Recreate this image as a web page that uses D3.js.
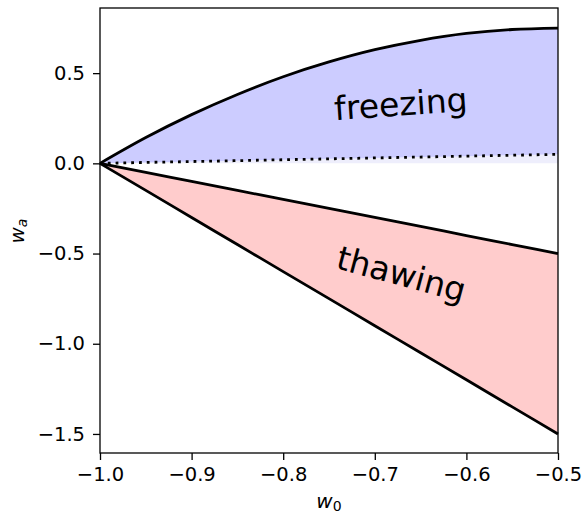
<!DOCTYPE html>
<html>
<head>
<meta charset="utf-8">
<script src="https://cdn.jsdelivr.net/npm/d3@7"></script>
<style>
  body { margin: 0; background: #fff; }
  text { font-family: "DejaVu Sans", sans-serif; }
</style>
</head>
<body>
<div class="chart-container"></div>
<script>
// --- data ---
const w0 = [-1.0, -0.95, -0.9, -0.85, -0.8, -0.75, -0.7, -0.65, -0.6, -0.55, -0.5];
const freezeUpper = [0, 0.143, 0.27, 0.382, 0.48, 0.562, 0.63, 0.682, 0.72, 0.742, 0.75];
const freezeLower = [0, 0.005, 0.01, 0.015, 0.02, 0.025, 0.03, 0.035, 0.04, 0.045, 0.05];
const thawUpper = [0, -0.05, -0.1, -0.15, -0.2, -0.25, -0.3, -0.35, -0.4, -0.45, -0.5];
const thawLower = [0, -0.15, -0.3, -0.45, -0.6, -0.75, -0.9, -1.05, -1.2, -1.35, -1.5];
const xTicks = [-1.0, -0.9, -0.8, -0.7, -0.6, -0.5];
const yTicks = [0.5, 0.0, -0.5, -1.0, -1.5];

const w = 584, h = 514;
const mLeft = 100, mRight = 558, mTop = 8, mBottom = 453;

const xScale = d3.scaleLinear().domain([-1.0, -0.5]).range([mLeft, mRight]);
const yScale = d3.scaleLinear().domain([-1.6056, 0.8611]).range([mBottom, mTop]);

const svg = d3.select(".chart-container")
    .append("svg")
    .attr("width", w)
    .attr("height", h);

const pts = (ys) => w0.map((x, i) => [x, ys[i]]);

// filled bands
const band = (lo, hi) => d3.area()
    .x((d, i) => xScale(w0[i]))
    .y0((d, i) => yScale(lo[i]))
    .y1((d, i) => yScale(hi[i]))
    .curve(d3.curveMonotoneX)(w0);

const zeros = w0.map(() => 0);
svg.append("path").attr("d", band(zeros, freezeLower)).attr("fill", "#eeeefc");
svg.append("path").attr("d", band(freezeLower, freezeUpper)).attr("fill", "#ccccff");
svg.append("path").attr("d", band(thawLower, thawUpper)).attr("fill", "#ffcccc");

const line = d3.line()
    .x(d => xScale(d[0]))
    .y(d => yScale(d[1]))
    .curve(d3.curveMonotoneX);

[freezeUpper, thawUpper, thawLower].forEach(function (ys) {
    svg.append("path")
        .attr("d", line(pts(ys)))
        .attr("fill", "none")
        .attr("stroke", "#000")
        .attr("stroke-width", 2.8);
});

svg.append("path")
    .attr("d", line(pts(freezeLower)))
    .attr("fill", "none")
    .attr("stroke", "#000")
    .attr("stroke-width", 2.8)
    .attr("stroke-dasharray", "2.8,5");

// region labels
svg.append("text")
    .attr("transform", "translate(401,106) rotate(-4)")
    .attr("text-anchor", "middle")
    .attr("dominant-baseline", "middle")
    .attr("font-size", 33)
    .text("freezing");

svg.append("text")
    .attr("transform", "translate(401,276) rotate(15)")
    .attr("text-anchor", "middle")
    .attr("dominant-baseline", "middle")
    .attr("font-size", 33)
    .text("thawing");

// axes
const fmt = d => d3.format(".1f")(d).replace("-", "\u2212");
const xAxis = d3.axisBottom(xScale).tickValues(xTicks).tickFormat(fmt).tickSize(7).tickPadding(7);
const yAxis = d3.axisLeft(yScale).tickValues(yTicks).tickFormat(fmt).tickSize(7).tickPadding(8);

const gx = svg.append("g").attr("transform", "translate(0," + mBottom + ")").call(xAxis);
const gy = svg.append("g").attr("transform", "translate(" + mLeft + ",0)").call(yAxis);
[gx, gy].forEach(function (g) {
    g.select(".domain").remove();
    g.selectAll(".tick line").attr("stroke", "#000").attr("stroke-width", 1.3);
    g.selectAll(".tick text").attr("font-size", 19.5).attr("fill", "#000")
        .attr("font-family", "DejaVu Sans");
});

svg.append("rect")
    .attr("x", mLeft).attr("y", mTop)
    .attr("width", mRight - mLeft).attr("height", mBottom - mTop)
    .attr("fill", "none").attr("stroke", "#000").attr("stroke-width", 1.3);

// axis titles
const xt = svg.append("text").attr("x", 329).attr("y", 508).attr("text-anchor", "middle")
    .attr("font-size", 20).attr("font-style", "italic");
xt.append("tspan").text("w");
xt.append("tspan").attr("font-size", 14).attr("dy", 3).attr("font-style", "normal").text("0");

const yt = svg.append("text").attr("transform", "translate(24,231) rotate(-90)")
    .attr("text-anchor", "middle").attr("font-size", 20).attr("font-style", "italic");
yt.append("tspan").text("w");
yt.append("tspan").attr("font-size", 14).attr("dy", 3).text("a");
</script>
</body>
</html>
